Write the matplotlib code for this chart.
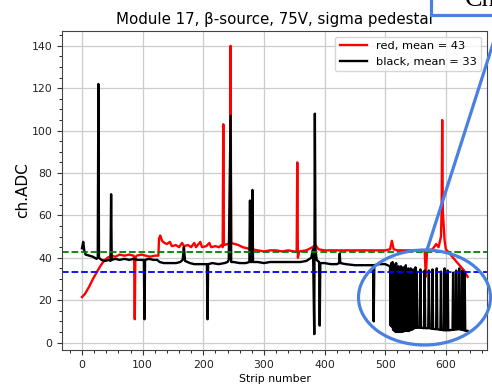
import matplotlib.pyplot as plt
from matplotlib.patches import Ellipse, Rectangle
from matplotlib.lines import Line2D
from matplotlib.ticker import AutoMinorLocator

# red channel: vertices (strip, ch.ADC)
red_strip = [0, 5, 12, 18, 24, 30, 36, 42, 48, 55, 62, 70, 78, 85, 86, 87, 88, 90, 98, 105, 112, 120, 126,
             127, 129, 132, 136, 140, 145, 148, 155, 160, 165, 168, 175, 180, 185, 188, 195, 198, 205, 210, 213,
             220, 226, 230, 232, 233, 234, 240, 244, 245, 246, 252, 258, 265, 272, 280, 290, 300, 310, 320,
             330, 340, 350, 354, 355, 356, 358, 370, 380, 385, 390, 400, 420, 440, 460, 480, 500, 508, 511,
             514, 520, 540, 555, 565, 567, 569, 578, 584, 588, 592, 593, 594, 595, 598, 600, 605, 612, 618,
             624, 630, 636]
red_adc = [21.5, 23, 26.5, 30, 33, 36, 38.5, 40, 41, 40.5, 41.5, 41, 41.5, 41, 40, 11, 40, 41, 41.5, 41, 40.5, 41, 41,
           49, 50.5, 48, 47, 46.5, 47.5, 45.5, 46, 45, 47, 45.5, 46, 45, 47, 45, 47.5, 45, 45.5, 47, 45,
           45.5, 45, 46, 45, 103, 46, 46.5, 46, 140, 47, 46.5, 46, 45, 44.5, 44, 43.5, 43, 43.5, 43.5,
           43, 43.5, 43, 43, 85, 40, 43, 43.5, 45, 46, 44, 43.5, 43.5, 43.5, 43.5, 43.5, 43.5, 44, 48,
           44, 43.5, 43.5, 43.5, 43.5, 31, 43.5, 44, 46.5, 45, 50, 62, 105, 62, 48, 44, 42.5, 40, 38,
           36, 34, 31]

# black channel
black_strip = [0, 2, 4, 6, 12, 18, 24, 26, 27, 28, 32, 38, 44, 47, 48, 49, 55, 62, 70, 78, 85, 92, 102, 103,
               104, 110, 118, 124, 128, 135, 145, 155, 162, 166, 168, 170, 178, 185, 195, 206, 207, 208, 215,
               225, 235, 240, 242, 245, 246, 250, 260, 270, 276, 277, 278, 280, 281, 282, 290, 300, 310, 320,
               330, 340, 350, 360, 370, 378, 381, 383, 384, 385, 387, 391, 392, 393, 400, 410, 420, 424, 425,
               426, 435, 450, 460, 470, 480, 481, 482, 490, 500, 508,
               509, 510, 511, 512, 513, 514, 515, 516, 517, 518, 519, 520, 521, 522, 523, 524, 525, 526, 527,
               528, 529, 530, 531, 532, 533, 534, 535, 536, 537, 538, 539, 540, 541, 542, 543, 544, 545, 546,
               547, 548, 549, 550, 551, 552, 553, 557, 558, 559, 564, 565, 566, 571, 572, 573, 577, 578, 579,
               584, 585, 586, 591, 592, 593, 597, 598, 599, 602, 603, 604, 611, 612, 613, 616, 617, 618, 621,
               622, 623, 626, 627, 628, 630, 631, 632, 636]
black_adc = [44.5, 47.5, 43, 41.5, 41, 40.5, 39.5, 40, 122, 40, 39, 38.5, 39, 38.5, 70, 39, 39.5, 39, 39.5, 39, 39.5, 39, 39, 11,
             39, 39.5, 39, 39, 38, 37.5, 37.5, 37.5, 38, 39, 45, 38.5, 37.5, 37, 37, 37, 11, 37, 37.5,
             37, 37.5, 38, 39, 107, 38, 38, 37.5, 37.5, 38, 67, 38, 38, 72, 38, 38, 37.5, 38, 38,
             38, 38, 38, 38, 38.5, 40, 44, 4, 108, 44, 39, 38, 8, 37.5, 37.5, 37, 37, 37.5, 42,
             37.5, 37, 36.5, 36.5, 36.5, 36.5, 10, 36.5, 37, 37, 36,
             8, 37.5, 7.5, 38, 6, 37, 5.5, 36, 5, 37.5, 5, 35, 5, 36, 5, 34.5, 5, 36, 5.2,
             35, 5.2, 35.5, 5.3, 34, 5.5, 36.5, 5.5, 34, 5.5, 35, 5.5, 33.5, 5.8, 35, 6, 33, 6.2, 34.5,
             6.5, 33, 7, 35.5, 7, 33.5, 7, 7, 34.5, 7, 6.8, 34, 6.8, 6.8, 34, 6.8, 6.5, 34.5, 6.5,
             6.3, 35, 6.3, 6, 33.5, 6, 5.8, 35, 5.8, 5.8, 34, 5.8, 6, 33, 6, 6.2, 34, 6.2, 6.3,
             35, 6.3, 6, 34, 6, 5.8, 33, 5.6, 5.5]

red_mean = 43
black_mean = 33
title = "Module 17, β-source, 75V, sigma pedestal"

fig = plt.figure(figsize=(4.92, 3.86), dpi=100)
ax = fig.add_axes([0.126, 0.0933, 0.864, 0.8264])

ax.plot(red_strip, red_adc, color='red', lw=1.7, label=f'red, mean = {red_mean}')
ax.plot(black_strip, black_adc, color='black', lw=1.7, label=f'black, mean = {black_mean}')
ax.axhline(42.6, color='green', ls='--', lw=1.3)
ax.axhline(33.2, color='blue', ls='--', lw=1.3)

ax.set_xlim(-33, 668)
ax.set_ylim(-3.5, 147)
ax.set_xticks([0, 100, 200, 300, 400, 500, 600])
ax.set_yticks([0, 20, 40, 60, 80, 100, 120, 140])
ax.xaxis.set_minor_locator(AutoMinorLocator())
ax.yaxis.set_minor_locator(AutoMinorLocator())
ax.tick_params(labelsize=7.8, colors='#333333', labelcolor='#222222')
ax.grid(True, color='#cccccc', lw=0.9)
for s in ax.spines.values():
    s.set_color('#444444')

ax.set_title(title, fontsize=10.8, pad=5)
ax.set_xlabel('Strip number', fontsize=7.8, labelpad=3)
ax.set_ylabel('ch.ADC', fontsize=11, labelpad=1)
ax.legend(loc='upper right', fontsize=8.2, handlelength=2.4)

# slide annotation drawn over the chart
blue = '#4a80e0'
fig.add_artist(Ellipse((424.5 / 492, 1 - 297.5 / 386), 132 / 492, 95 / 386, transform=fig.transFigure,
                       fill=False, ec=blue, lw=2.3, zorder=5))
fig.add_artist(Line2D([427 / 492, 507 / 492], [1 - 250 / 386, 1.0], transform=fig.transFigure,
                      color=blue, lw=2.3, zorder=5))
fig.add_artist(Rectangle((431 / 492, 1 - 14.5 / 386), 0.2, 0.1, transform=fig.transFigure,
                         fc='white', ec=blue, lw=2.3, zorder=5))
fig.text(465 / 492, 1 - 6 / 386, 'Ch', family='Liberation Serif', fontsize=19, va='baseline', zorder=6)

fig.savefig('out.png', dpi=100)
